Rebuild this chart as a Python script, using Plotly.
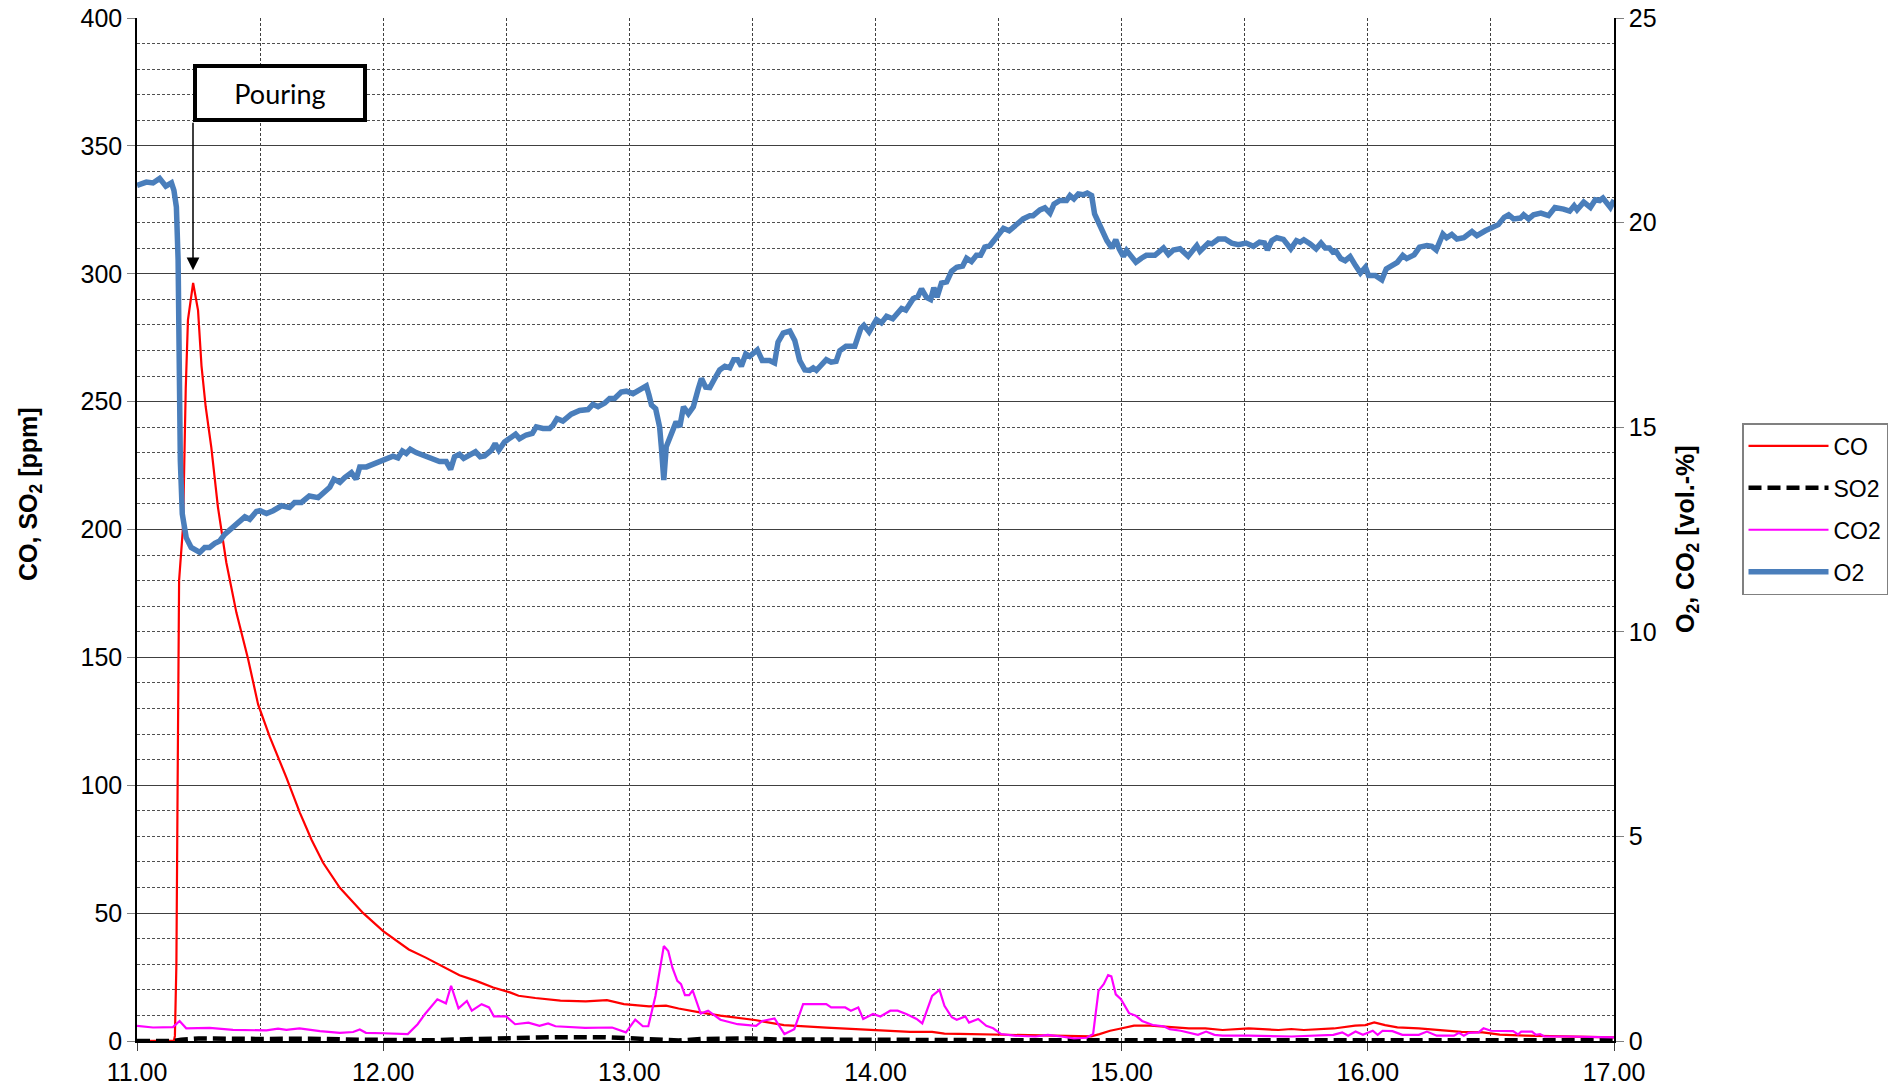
import plotly.graph_objects as go

# ---------------- data (time in decimal hours) ----------------
co_time = [11.0, 11.05, 11.1, 11.15, 11.154, 11.16, 11.165, 11.171, 11.187, 11.198, 11.207, 11.228,
           11.248, 11.262, 11.279, 11.302, 11.329, 11.363, 11.404, 11.451, 11.492, 11.539, 11.607,
           11.661, 11.709, 11.756, 11.824, 11.919, 12.0, 12.104, 12.173, 12.259, 12.31, 12.378,
           12.447, 12.515, 12.55, 12.618, 12.72, 12.823, 12.909, 12.978, 13.08, 13.149, 13.2,
           13.286, 13.37, 13.51, 13.628, 13.8, 13.97, 14.14, 14.23, 14.28, 14.34, 14.48, 14.65,
           14.82, 14.876, 14.91, 14.953, 14.997, 15.05, 15.118, 15.204, 15.273, 15.34, 15.41,
           15.516, 15.637, 15.689, 15.74, 15.862, 15.948, 15.99, 16.026, 16.07, 16.12, 16.207,
           16.277, 16.38, 16.467, 16.536, 16.64, 16.81, 17.0]
co_ppm = [0, 0, 0, 0.2, 2, 30, 100, 180, 201, 255, 282, 296.4,
          285.7, 264, 248, 232, 208.6, 187, 167.4, 149.5, 131.6, 119, 103,
          89.4, 78.7, 69.7, 59.9, 50, 43, 35.8, 32.6, 28.3, 25.7, 23.5,
          20.9, 19.0, 17.7, 16.8, 15.8, 15.5, 16.0, 14.4, 13.5, 13.8, 12.7,
          11.2, 9.9, 8.2, 6.2, 5.2, 4.4, 3.6, 3.6, 2.9, 2.8, 2.5, 2.1,
          1.7, 1.8, 2.7, 4.0, 4.9, 6.0, 6.0, 5.3, 4.9, 4.9, 4.3,
          4.9, 4.3, 4.7, 4.3, 4.9, 6.0, 6.2, 7.3, 6.2, 5.3, 4.9,
          4.3, 3.6, 3.4, 2.5, 2.1, 1.8, 1.4]

so2_time = [11.0, 11.15, 11.18, 11.25, 11.5, 11.7, 11.9, 12.0, 12.2, 12.3, 12.5, 12.7, 12.9,
            13.0, 13.1, 13.2, 13.3, 13.5, 13.6, 13.8, 14.0, 14.5, 15.0, 15.5, 16.0, 16.5, 17.0]
so2_ppm = [0.0, 0.0, 0.5, 1.0, 0.8, 0.9, 0.5, 0.3, 0.3, 0.6, 1.2, 1.5, 1.5,
           1.2, 0.5, 0.2, 0.8, 1.0, 0.6, 0.4, 0.5, 0.3, 0.2, 0.3, 0.3, 0.3, 0.3]

co2_time = [11.0, 11.065, 11.146, 11.173, 11.2, 11.295, 11.39, 11.526, 11.573, 11.607, 11.66,
            11.743, 11.824, 11.878, 11.905, 11.93, 12.0, 12.10, 12.14, 12.17, 12.22, 12.255,
            12.276, 12.306, 12.34, 12.36, 12.40, 12.43, 12.45, 12.50, 12.536, 12.59, 12.635,
            12.67, 12.70, 12.82, 12.93, 12.986, 13.024, 13.055, 13.077, 13.106, 13.14, 13.158,
            13.175, 13.195, 13.21, 13.226, 13.243, 13.257, 13.29, 13.32, 13.37, 13.44, 13.515,
            13.54, 13.59, 13.63, 13.67, 13.706, 13.73, 13.80, 13.82, 13.877, 13.90, 13.93,
            13.95, 13.99, 14.02, 14.06, 14.09, 14.125, 14.167, 14.19, 14.23, 14.26, 14.28,
            14.31, 14.33, 14.365, 14.38, 14.417, 14.45, 14.478, 14.51, 14.564, 14.65, 14.70,
            14.754, 14.806, 14.858, 14.884, 14.906, 14.927, 14.945, 14.958, 14.976, 14.997,
            15.03, 15.057, 15.083, 15.126, 15.17, 15.195, 15.24, 15.28, 15.31, 15.343, 15.377,
            15.41, 15.516, 15.69, 15.86, 15.896, 15.92, 15.95, 15.98, 16.02, 16.04, 16.06,
            16.1, 16.14, 16.207, 16.24, 16.28, 16.35, 16.37, 16.39, 16.41, 16.45, 16.47, 16.50,
            16.55, 16.59, 16.61, 16.623, 16.667, 16.683, 16.70, 16.717, 16.81, 16.9, 17.0]
co2_vol = [0.37, 0.33, 0.34, 0.49, 0.31, 0.32, 0.27, 0.26, 0.30, 0.27, 0.31,
           0.24, 0.20, 0.22, 0.28, 0.20, 0.19, 0.17, 0.41, 0.66, 1.02, 0.92,
           1.35, 0.80, 0.98, 0.74, 0.90, 0.82, 0.60, 0.60, 0.41, 0.45, 0.37,
           0.43, 0.36, 0.32, 0.33, 0.21, 0.52, 0.36, 0.36, 1.10, 2.32, 2.20,
           1.79, 1.47, 1.39, 1.12, 1.12, 1.24, 0.67, 0.74, 0.52, 0.41, 0.37,
           0.49, 0.55, 0.17, 0.29, 0.90, 0.90, 0.90, 0.82, 0.82, 0.74, 0.82,
           0.54, 0.66, 0.60, 0.74, 0.74, 0.66, 0.54, 0.43, 1.10, 1.25, 0.86,
           0.58, 0.52, 0.60, 0.45, 0.54, 0.37, 0.31, 0.17, 0.13, 0.11, 0.15,
           0.11, 0.065, 0.08, 0.17, 1.23, 1.39, 1.61, 1.58, 1.14, 1.02,
           0.68, 0.62, 0.49, 0.39, 0.36, 0.29, 0.25, 0.20, 0.15, 0.23, 0.15,
           0.13, 0.13, 0.11, 0.15, 0.21, 0.13, 0.23, 0.15, 0.25, 0.15, 0.25,
           0.24, 0.15, 0.15, 0.23, 0.13, 0.13, 0.20, 0.13, 0.20, 0.21, 0.31, 0.25,
           0.24, 0.24, 0.16, 0.23, 0.23, 0.15, 0.17, 0.11, 0.11, 0.10, 0.09]

o2_time = [11.0, 11.038, 11.065, 11.092, 11.117, 11.14, 11.15, 11.16, 11.167, 11.17, 11.176,
           11.184, 11.2, 11.22, 11.255, 11.275, 11.295, 11.316, 11.336, 11.356, 11.383, 11.41,
           11.438, 11.458, 11.485, 11.50, 11.526, 11.553, 11.587, 11.62, 11.64, 11.668, 11.70,
           11.736, 11.763, 11.783, 11.80, 11.824, 11.844, 11.871, 11.89, 11.905, 11.932, 11.96,
           11.985, 12.04, 12.06, 12.078, 12.094, 12.11, 12.134, 12.16, 12.195, 12.229, 12.256,
           12.274, 12.29, 12.31, 12.327, 12.35, 12.375, 12.394, 12.412, 12.44, 12.455, 12.47,
           12.493, 12.538, 12.554, 12.581, 12.606, 12.622, 12.649, 12.676, 12.69, 12.706, 12.73,
           12.764, 12.798, 12.832, 12.852, 12.873, 12.9, 12.92, 12.94, 12.967, 12.988, 13.015,
           13.042, 13.069, 13.08, 13.09, 13.107, 13.123, 13.13, 13.14, 13.15, 13.17, 13.19,
           13.205, 13.22, 13.24, 13.26, 13.28, 13.293, 13.31, 13.327, 13.347, 13.367, 13.388,
           13.408, 13.424, 13.44, 13.455, 13.473, 13.489, 13.52, 13.54, 13.57, 13.59, 13.604,
           13.625, 13.652, 13.672, 13.692, 13.713, 13.733, 13.747, 13.76, 13.80, 13.82, 13.84,
           13.855, 13.88, 13.916, 13.94, 13.953, 13.974, 14.004, 14.024, 14.045, 14.07, 14.106,
           14.123, 14.153, 14.173, 14.187, 14.207, 14.224, 14.237, 14.25, 14.268, 14.289, 14.309,
           14.33, 14.354, 14.37, 14.39, 14.41, 14.427, 14.444, 14.465, 14.5, 14.52, 14.543,
           14.573, 14.6, 14.627, 14.64, 14.668, 14.688, 14.709, 14.725, 14.749, 14.776, 14.79,
           14.806, 14.824, 14.844, 14.86, 14.878, 14.89, 14.912, 14.94, 14.96, 14.976, 14.99,
           15.007, 15.02, 15.04, 15.058, 15.08, 15.10, 15.135, 15.17, 15.19, 15.21, 15.237,
           15.27, 15.305, 15.318, 15.352, 15.366, 15.393, 15.42, 15.447, 15.474, 15.505, 15.535,
           15.56, 15.58, 15.592, 15.61, 15.63, 15.657, 15.687, 15.71, 15.725, 15.74, 15.766,
           15.79, 15.81, 15.827, 15.844, 15.858, 15.87, 15.89, 15.908, 15.928, 15.95, 15.97,
           15.99, 16.003, 16.03, 16.057, 16.075, 16.1, 16.12, 16.142, 16.158, 16.188, 16.21,
           16.24, 16.26, 16.278, 16.305, 16.32, 16.341, 16.362, 16.39, 16.423, 16.443, 16.477,
           16.504, 16.53, 16.554, 16.572, 16.592, 16.62, 16.633, 16.653, 16.673, 16.703, 16.734,
           16.76, 16.795, 16.82, 16.838, 16.85, 16.877, 16.904, 16.924, 16.942, 16.955, 16.97,
           16.985, 17.0]
o2_vol = [20.91, 20.99, 20.97, 21.08, 20.89, 20.97, 20.79, 20.38, 19.08, 16.63, 14.18,
          12.88, 12.3, 12.06, 11.94, 12.06, 12.06, 12.16, 12.22, 12.38, 12.51, 12.65,
          12.81, 12.75, 12.94, 12.96, 12.89, 12.96, 13.08, 13.04, 13.16, 13.16, 13.32,
          13.28, 13.45, 13.53, 13.73, 13.65, 13.77, 13.89, 13.73, 14.03, 14.03, 14.10,
          14.16, 14.29, 14.25, 14.42, 14.36, 14.46, 14.38, 14.32, 14.21, 14.16, 14.16,
          13.97, 14.28, 14.34, 14.24, 14.32, 14.40, 14.28, 14.30, 14.44, 14.60, 14.44,
          14.64, 14.83, 14.72, 14.81, 14.85, 15.01, 14.97, 14.97, 15.05, 15.21, 15.15,
          15.32, 15.41, 15.43, 15.56, 15.50, 15.59, 15.70, 15.70, 15.86, 15.88, 15.82,
          15.92, 16.01, 15.78, 15.54, 15.45, 15.01, 14.52, 13.71, 14.52, 14.85, 15.13,
          15.01, 15.5, 15.33, 15.5, 15.94, 16.19, 15.98, 15.97, 16.19, 16.40, 16.49,
          16.45, 16.65, 16.65, 16.49, 16.79, 16.73, 16.89, 16.63, 16.63, 16.57, 17.08,
          17.30, 17.35, 17.12, 16.63, 16.40, 16.39, 16.45, 16.39, 16.65, 16.59, 16.61,
          16.87, 16.98, 16.98, 17.41, 17.49, 17.33, 17.63, 17.55, 17.71, 17.65, 17.90,
          17.86, 18.14, 18.20, 18.38, 18.17, 18.12, 18.41, 18.18, 18.52, 18.55, 18.81,
          18.91, 18.94, 19.13, 19.05, 19.2, 19.2, 19.4, 19.44, 19.68, 19.86, 19.80,
          19.95, 20.09, 20.17, 20.17, 20.31, 20.36, 20.23, 20.45, 20.54, 20.54, 20.66,
          20.58, 20.7, 20.68, 20.72, 20.66, 20.21, 19.89, 19.56, 19.38, 19.58, 19.36,
          19.17, 19.32, 19.16, 19.03, 19.13, 19.2, 19.2, 19.38, 19.22, 19.33, 19.36,
          19.18, 19.44, 19.30, 19.50, 19.48, 19.60, 19.60, 19.50, 19.46, 19.50, 19.42,
          19.52, 19.50, 19.33, 19.56, 19.63, 19.59, 19.36, 19.56, 19.52, 19.58, 19.48,
          19.36, 19.50, 19.38, 19.38, 19.28, 19.30, 19.12, 19.07, 19.17, 18.95, 18.77,
          18.91, 18.71, 18.71, 18.60, 18.87, 18.98, 19.03, 19.20, 19.12, 19.21, 19.40,
          19.44, 19.42, 19.33, 19.72, 19.63, 19.71, 19.60, 19.63, 19.78, 19.68, 19.80,
          19.89, 19.95, 20.13, 20.19, 20.09, 20.11, 20.19, 20.09, 20.19, 20.23, 20.17,
          20.37, 20.33, 20.28, 20.41, 20.31, 20.5, 20.37, 20.56, 20.54, 20.6, 20.47,
          20.37, 20.55]

x_tick_vals = [11, 12, 13, 14, 15, 16, 17]
x_tick_text = ["11.00", "12.00", "13.00", "14.00", "15.00", "16.00", "17.00"]
series_names = ["CO", "SO2", "CO2", "O2"]
annotation_text = "Pouring"
pour_time = 11.2275
pour_ppm = 301.4

# ---------------- figure ----------------
FONT = "Liberation Sans, Arial, sans-serif"
W, H = 1899, 1089
ML, MR, MT, MB = 137, 285, 18, 48
PW, PH = W - ML - MR, H - MT - MB

fig = go.Figure()
fig.add_trace(go.Scatter(x=co_time, y=co_ppm, name=series_names[0], mode="lines",
                         line=dict(color="#FF0000", width=2.2), legendgroup="a"))
fig.add_trace(go.Scatter(x=so2_time, y=so2_ppm, name=series_names[1], mode="lines",
                         line=dict(color="#000000", width=4.5, dash="13px,6px"), legendgroup="b"))
fig.add_trace(go.Scatter(x=co2_time, y=co2_vol, name=series_names[2], mode="lines",
                         line=dict(color="#FF00FF", width=2.2), yaxis="y2", legendgroup="c"))
fig.add_trace(go.Scatter(x=o2_time, y=o2_vol, name=series_names[3], mode="lines",
                         line=dict(color="#4A7EBB", width=5.5), yaxis="y2", legendgroup="d"))

grid_dash = "3px,2px"
fig.update_layout(
    width=W, height=H,
    margin=dict(l=ML, r=MR, t=MT, b=MB, pad=0, autoexpand=False),
    paper_bgcolor="white", plot_bgcolor="white",
    font=dict(family=FONT, size=25, color="black"),
    showlegend=True,
    legend=dict(x=(1742 - ML) / PW, y=(MT + PH - 423) / PH, xanchor="left", yanchor="top",
                bgcolor="white", bordercolor="#808080", borderwidth=1.5,
                font=dict(family=FONT, size=23, color="black"),
                traceorder="grouped", tracegroupgap=9, itemwidth=80),
    xaxis=dict(range=[11, 17], tickvals=x_tick_vals, ticktext=x_tick_text, automargin=False,
               showline=True, linecolor="black", linewidth=1.5, mirror=False,
               ticks="outside", ticklen=8, tickcolor="#404040", tickwidth=1,
               showgrid=True, gridcolor="#404040", gridwidth=1, griddash=grid_dash,
               minor=dict(dtick=0.5, tick0=11, showgrid=True, gridcolor="#404040",
                          gridwidth=1, griddash=grid_dash, ticks=""),
               zeroline=False, tickfont=dict(size=25)),
    yaxis=dict(range=[0, 400], dtick=50, tick0=0, automargin=False,
               showline=True, linecolor="black", linewidth=1.5,
               ticks="outside", ticklen=8, tickcolor="#808080", tickwidth=1,
               showgrid=True, gridcolor="#404040", gridwidth=1,
               minor=dict(dtick=10, tick0=0, showgrid=True, gridcolor="#505050",
                          gridwidth=1, griddash=grid_dash, ticks=""),
               zeroline=False, tickfont=dict(size=25)),
    yaxis2=dict(range=[0, 25], dtick=5, tick0=0, overlaying="y", side="right", automargin=False,
                showline=True, linecolor="black", linewidth=1.5,
                ticks="outside", ticklen=8, tickcolor="#808080", tickwidth=1,
                showgrid=False, zeroline=False, tickfont=dict(size=25)),
)

# axis titles
fig.add_annotation(text="<b>CO, SO<sub>2</sub> [ppm]</b>", xref="paper", yref="paper",
                   x=(30 - ML) / PW, y=(MT + PH - 494) / PH, textangle=-90, showarrow=False,
                   font=dict(family=FONT, size=25, color="black"), xanchor="center", yanchor="middle")
fig.add_annotation(text="<b>O<sub>2</sub>, CO<sub>2</sub> [vol.-%]</b>", xref="paper", yref="paper",
                   x=(1687 - ML) / PW, y=(MT + PH - 539) / PH, textangle=-90, showarrow=False,
                   font=dict(family=FONT, size=25, color="black"), xanchor="center", yanchor="middle")

# "Pouring" box
fig.add_annotation(text=annotation_text, xref="x", yref="y", x=11.581, y=370.8,
                   showarrow=False, width=166, height=50, borderwidth=4, borderpad=0,
                   bordercolor="black", bgcolor="white",
                   font=dict(family="Lato, Open Sans, sans-serif", size=27, color="black"))
# arrow
fig.add_annotation(text="", xref="x", yref="y", x=pour_time, y=pour_ppm,
                   showarrow=True, ax=0, ay=-149, arrowhead=2, arrowsize=1.7,
                   arrowwidth=1.5, arrowcolor="black", standoff=0, startstandoff=0)

fig.write_html("out.html", include_plotlyjs=True, config={"displayModeBar": False},
               post_script="document.body.style.margin='0';document.body.style.overflow='hidden';")
